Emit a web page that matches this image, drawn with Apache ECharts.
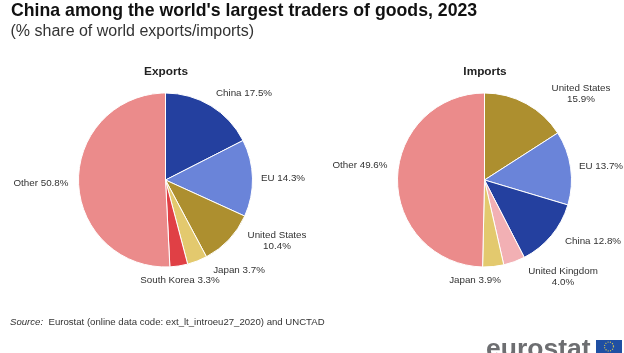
<!DOCTYPE html>
<html>
<head>
<meta charset="utf-8">
<script src="https://cdn.jsdelivr.net/npm/echarts@6/dist/echarts.min.js"></script>
<style>
html, body { margin: 0; padding: 0; background: #fff; }
#chart { width: 624px; height: 353px; }
</style>
</head>
<body>
<div id="chart"></div>
<script>
var exportNames = ['China', 'EU', 'United States', 'Japan', 'South Korea', 'Other'];
var exportValues = [17.5, 14.3, 10.4, 3.7, 3.3, 50.8];
var exportColors = ['#24409f', '#6a84d9', '#ad8f2f', '#e3c96e', '#e04045', '#eb8b8b'];

var importNames = ['United States', 'EU', 'China', 'United Kingdom', 'Japan', 'Other'];
var importValues = [15.9, 13.7, 12.8, 4.0, 3.9, 49.6];
var importColors = ['#ad8f2f', '#6a84d9', '#24409f', '#f2b0b4', '#e3c96e', '#eb8b8b'];

// label centres in pixels, same order as the names
var exportLabelPos = [[244, 93], [283, 178], [277, 241], [239, 270], [180, 280], [41, 183]];
var importLabelPos = [[581, 94], [601, 166], [593, 241], [563, 277], [475, 280], [360, 165]];

// names that break onto two lines
var twoLine = { 'United States': 1, 'United Kingdom': 1 };

function buildData(names, values, colors) {
	var rows = [];
	for (var i = 0; i < names.length; i++) {
		rows.push({ name: names[i], value: values[i], itemStyle: { color: colors[i] } });
	}
	return rows;
}

function labelText(p) {
	var sep = twoLine[p.name] ? '\n' : ' ';
	return p.name + sep + p.value.toFixed(1) + '%';
}

function pieSeries(cx, names, values, colors, labelPos) {
	return {
		type: 'pie',
		center: [cx, 180],
		radius: [0, 87],
		startAngle: 90,
		clockwise: true,
		silent: true,
		animation: false,
		data: buildData(names, values, colors),
		itemStyle: { borderColor: '#fff', borderWidth: 1 },
		label: {
			show: true,
			position: 'outside',
			formatter: labelText,
			fontFamily: 'Liberation Sans',
			fontSize: 9.8,
			lineHeight: 11.5,
			color: '#333',
			align: 'center',
			verticalAlign: 'middle',
			overflow: 'none',
			width: 120
		},
		labelLine: { show: false },
		labelLayout: function(params) {
			var pos = labelPos[params.dataIndex];
			return { x: pos[0], y: pos[1], align: 'center', verticalAlign: 'middle' };
		}
	};
}

var myChart = echarts.init(document.getElementById('chart'), null, { renderer: 'canvas' });

var option = {
	backgroundColor: '#fff',
	animation: false,
	title: [
		{ text: "China among the world's largest traders of goods, 2023", left: 11, top: 2, padding: 0,
			textStyle: { fontFamily: 'Liberation Sans', fontSize: 17.7, fontWeight: 'bold', color: '#111' } },
		{ text: '(% share of world exports/imports)', left: 10.5, top: 24, padding: 0,
			textStyle: { fontFamily: 'Liberation Sans', fontSize: 16, fontWeight: 'normal', color: '#333' } },
		{ text: 'Exports', left: 166, top: 66, padding: 0, textAlign: 'center',
			textStyle: { fontFamily: 'Liberation Sans', fontSize: 11.8, fontWeight: 'bold', color: '#222' } },
		{ text: 'Imports', left: 485, top: 66, padding: 0, textAlign: 'center',
			textStyle: { fontFamily: 'Liberation Sans', fontSize: 11.8, fontWeight: 'bold', color: '#222' } }
	],
	series: [
		pieSeries(165.5, exportNames, exportValues, exportColors, exportLabelPos),
		pieSeries(484.5, importNames, importValues, importColors, importLabelPos)
	],
	graphic: [
		{ type: 'text', x: 10, y: 317, style: { text: 'Source:', fontFamily: 'Liberation Sans', fontSize: 9.6, fontStyle: 'italic', fill: '#333' } },
		{ type: 'text', x: 48.5, y: 317, style: { text: 'Eurostat (online data code: ext_lt_introeu27_2020) and UNCTAD', fontFamily: 'Liberation Sans', fontSize: 9.6, fill: '#333' } },
		{ type: 'text', x: 486, y: 336, style: { text: 'eurostat', fontFamily: 'Liberation Sans', fontSize: 26.5, fontWeight: 'bold', fill: '#6d6e71' } },
		{ type: 'rect', shape: { x: 596, y: 340, width: 26, height: 13 }, style: { fill: '#1f4fa3' } },
		{ type: 'circle', shape: { cx: 609, cy: 346.5, r: 4.5 }, style: { fill: 'none', stroke: '#d8c850', lineWidth: 1.2, lineDash: [1, 1.4] } }
	]
};

myChart.setOption(option);
</script>
</body>
</html>
